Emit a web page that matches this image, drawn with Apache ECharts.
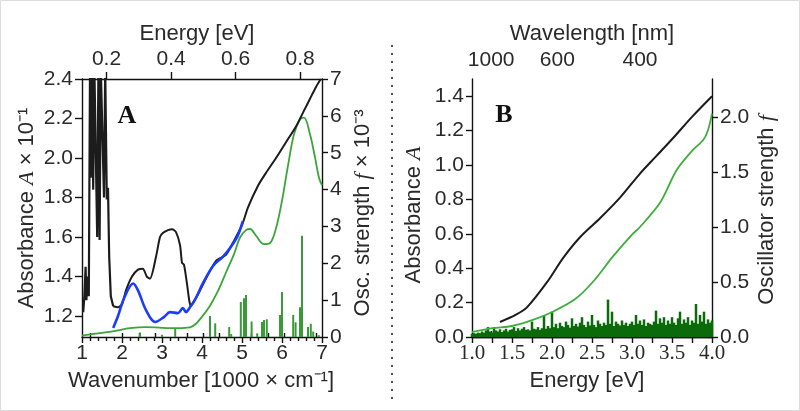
<!DOCTYPE html>
<html><head><meta charset="utf-8">
<script src="https://cdn.jsdelivr.net/npm/echarts@6/dist/echarts.min.js"></script>
<style>html,body{margin:0;padding:0;background:#fff}#c{width:800px;height:411px}</style>
</head><body><div id="c"></div>
<script>
// ---------- Panel A data (x: wavenumber in 1000 cm^-1) ----------
// jagged low-wavenumber region of the absorbance (spikes run off the top of the axis)
const absSpikeA_wn  = [1.03,1.06,1.09,1.11,1.14,1.17,1.20,1.22,1.25,1.28,1.31,1.35,1.38,1.41,1.44,1.47,1.52,1.55,1.58,1.62,1.65,1.68,1.72,1.78];
const absSpikeA_val = [1.22,1.30,1.45,1.28,1.40,1.30,2.45,1.90,2.45,1.84,2.45,2.45,1.60,2.45,1.585,2.45,2.45,1.80,2.45,1.79,1.85,1.50,1.30,1.25];
// smooth remainder of the absorbance
const absA_wn  = [1.78,1.90,2.00,2.10,2.25,2.40,2.52,2.62,2.70,2.85,2.95,3.02,3.15,3.25,3.35,3.45,3.50,3.55,3.62,3.68,3.72,3.78,3.90,4.00,4.35,4.60,4.77,5.00,5.15,5.40,5.60,5.85,6.10,6.35,6.55,6.70,6.85,6.97];
const absA_val = [1.25,1.245,1.26,1.33,1.40,1.435,1.44,1.40,1.39,1.50,1.60,1.62,1.635,1.64,1.625,1.56,1.47,1.46,1.37,1.28,1.25,1.27,1.31,1.35,1.48,1.51,1.57,1.66,1.75,1.86,1.925,2.00,2.08,2.16,2.24,2.30,2.36,2.40];
const blueA_wn  = [1.78,1.90,2.05,2.28,2.40,2.60,2.83,3.05,3.20,3.40,3.52,3.60,3.70,3.82,4.02,4.28,4.52,4.70,4.88,5.02];
const blueA_val = [1.14,1.20,1.29,1.365,1.33,1.23,1.17,1.195,1.22,1.215,1.24,1.22,1.245,1.28,1.365,1.455,1.50,1.545,1.60,1.68];
const oscA_wn  = [1.0,1.4,1.8,2.2,2.6,3.0,3.4,3.7,3.85,4.0,4.2,4.4,4.6,4.8,4.95,5.1,5.2,5.35,5.55,5.7,5.85,6.0,6.15,6.3,6.45,6.55,6.7,6.82,6.93,7.0];
const oscA_val = [0.04,0.10,0.16,0.24,0.27,0.25,0.24,0.26,0.36,0.55,0.85,1.25,1.75,2.25,2.7,2.9,2.93,2.75,2.52,2.55,2.95,3.7,4.65,5.5,5.9,5.95,5.5,4.9,4.3,4.12];
const stickA_wn  = [2.45,3.00,3.33,4.20,4.33,4.68,4.73,4.97,5.05,5.10,5.24,5.38,5.50,5.55,5.62,5.95,6.00,6.28,6.34,6.45,6.47,6.50,6.65,6.72,6.78,6.92];
const stickA_val = [0.12,0.06,0.24,0.57,0.37,0.27,0.08,0.95,1.05,1.14,0.42,0.10,0.41,0.46,0.48,0.60,1.22,0.60,0.40,0.81,0.30,2.75,0.27,0.36,0.15,0.05];
const tickA_left     = [1.2,1.4,1.6,1.8,2.0,2.2,2.4];
const tickA_topMajor = [0.2,0.4,0.6,0.8];
const tickA_topMinor = [0.15,0.25,0.3,0.35,0.45,0.5,0.55,0.65,0.7,0.75,0.85];

// ---------- Panel B data (x: energy in eV) ----------
const absB_E   = [1.35,1.55,1.69,1.94,2.14,2.35,2.60,2.85,3.10,3.30,3.52,3.75,4.00];
const absB_val = [0.087,0.13,0.174,0.32,0.46,0.58,0.69,0.81,0.95,1.05,1.16,1.28,1.40];
const oscB_E   = [1.0,1.26,1.5,1.76,2.01,2.29,2.51,2.76,3.0,3.1,3.35,3.56,3.76,3.89,3.95,4.0];
const oscB_val = [0.045,0.08,0.10,0.155,0.23,0.345,0.50,0.73,0.93,1.0,1.22,1.52,1.70,1.79,1.88,2.03];
const stickB_val = [
 0.03,0.035,0.03,0.04,0.035,0.05,0.04,0.06,0.09,0.05,
 0.04,0.09,0.06,0.05,0.07,0.045,0.06,0.075,0.05,0.065,
 0.07,0.09,0.055,0.08,0.06,0.075,0.09,0.065,0.07,0.06,
 0.14,0.075,0.07,0.09,0.065,0.08,0.2,0.075,0.1,0.08,
 0.23,0.09,0.12,0.08,0.13,0.1,0.09,0.14,0.11,0.085,
 0.17,0.1,0.12,0.095,0.13,0.18,0.11,0.09,0.14,0.105,
 0.2,0.11,0.09,0.15,0.12,0.1,0.13,0.11,0.34,0.12,
 0.23,0.1,0.14,0.12,0.105,0.15,0.11,0.13,0.1,0.12,
 0.14,0.11,0.2,0.12,0.15,0.11,0.16,0.1,0.13,0.12,
 0.11,0.14,0.24,0.12,0.17,0.13,0.18,0.11,0.15,0.12,
 0.18,0.13,0.11,0.17,0.23,0.12,0.16,0.13,0.18,0.11,
 0.15,0.13,0.3,0.12,0.2,0.14,0.23,0.12,0.16,0.13,
 0.15];
const stickB_E = stickB_val.map((v, i) => +(1 + i * 0.025).toFixed(3)); // energy grid of the stick spectrum
const tickB_nmMajor = [1000,600,400];
const tickB_nmMinor = [1200,1150,1100,1050,950,900,850,800,750,700,650,550,500,450,350];
const tickB_left  = [0,0.2,0.4,0.6,0.8,1.0,1.2,1.4];
const tickB_right = [0,0.5,1.0,1.5,2.0];

// ---------- helpers ----------
const HC = 1239.842; // eV*nm
const EV_PER_KCM = 0.1239842; // eV per 1000 cm^-1
const zip = (a, b) => a.map((v, i) => [v, b[i]]);
const SANS = "'Liberation Sans', Arial, sans-serif";
const SERIF = "'Liberation Serif', 'Times New Roman', serif";
const TXT = '#2a2a2a';
const lineStyle = { color: '#111', width: 1.4 };
const lbl = (o) => Object.assign({ color: TXT, fontFamily: SANS, fontSize: 21 }, o);

const gridA = { left: 82, top: 79, width: 240, height: 258, containLabel: false, outerBoundsMode: 'none' };
const gridB = { left: 472, top: 79, width: 240, height: 258, containLabel: false, outerBoundsMode: 'none' };

const chart = echarts.init(document.getElementById('c'), null, { renderer: 'canvas' });
const option = {
  animation: false,
  backgroundColor: '#fff',
  grid: [gridA, Object.assign({}, gridA), gridB, Object.assign({}, gridB)],
  xAxis: [
    { gridIndex: 0, type: 'value', position: 'bottom', min: 1, max: 7, interval: 1,
      axisLine: { show: true, lineStyle }, splitLine: { show: false },
      axisTick: { show: true, length: 6, lineStyle },
      minorTick: { show: true, splitNumber: 5, length: 4, lineStyle },
      axisLabel: lbl({ margin: 6 }) },
    { gridIndex: 0, type: 'value', position: 'top', min: 1 * EV_PER_KCM, max: 7 * EV_PER_KCM,
      axisLine: { show: true, lineStyle }, splitLine: { show: false },
      axisTick: { show: true, length: 7, lineStyle, customValues: tickA_topMajor },
      axisLabel: lbl({ margin: 9, customValues: tickA_topMajor, formatter: v => v.toFixed(1) }) },
    { gridIndex: 1, type: 'value', position: 'top', min: 1 * EV_PER_KCM, max: 7 * EV_PER_KCM,
      axisLine: { show: false }, splitLine: { show: false },
      axisTick: { show: true, length: 4, lineStyle, customValues: tickA_topMinor },
      axisLabel: { show: false } },
    { gridIndex: 2, type: 'value', position: 'bottom', min: 1, max: 4, interval: 0.5,
      axisLine: { show: true, lineStyle }, splitLine: { show: false },
      axisTick: { show: true, length: 6, lineStyle },
      minorTick: { show: true, splitNumber: 2, length: 6, lineStyle },
      axisLabel: lbl({ margin: 6, fontFamily: SERIF, formatter: v => v.toFixed(1) }) },
    { gridIndex: 2, type: 'value', position: 'top', min: 1, max: 4,
      axisLine: { show: true, lineStyle }, splitLine: { show: false },
      axisTick: { show: true, length: 6, lineStyle, customValues: tickB_nmMajor.map(n => HC / n) },
      axisLabel: lbl({ margin: 8, customValues: tickB_nmMajor.map(n => HC / n), formatter: v => String(Math.round(HC / v)) }) },
    { gridIndex: 3, type: 'value', position: 'top', min: 1, max: 4,
      axisLine: { show: false }, splitLine: { show: false },
      axisTick: { show: true, length: 3, lineStyle, customValues: tickB_nmMinor.map(n => HC / n).filter(e => e >= 1 && e <= 4) },
      axisLabel: { show: false } }
  ],
  yAxis: [
    { gridIndex: 0, type: 'value', position: 'left', min: 1.094, max: 2.4,
      axisLine: { show: true, lineStyle }, splitLine: { show: false },
      axisTick: { show: true, length: 7, lineStyle, customValues: tickA_left },
      axisLabel: lbl({ margin: 9, customValues: tickA_left, formatter: v => v.toFixed(1) }) },
    { gridIndex: 0, type: 'value', position: 'right', min: 0, max: 7, interval: 1,
      axisLine: { show: true, lineStyle }, splitLine: { show: false },
      axisTick: { show: true, length: 6, lineStyle },
      axisLabel: lbl({ margin: 8 }) },
    { gridIndex: 1, type: 'value', show: false, min: 0, max: 1 },
    { gridIndex: 2, type: 'value', position: 'left', min: 0, max: 1.5,
      axisLine: { show: true, lineStyle }, splitLine: { show: false },
      axisTick: { show: true, length: 6, lineStyle, customValues: tickB_left },
      axisLabel: lbl({ margin: 8, customValues: tickB_left, formatter: v => v.toFixed(1) }) },
    { gridIndex: 2, type: 'value', position: 'right', min: 0, max: 2.345,
      axisLine: { show: true, lineStyle }, splitLine: { show: false },
      axisTick: { show: true, length: 6, lineStyle, customValues: tickB_right },
      axisLabel: lbl({ margin: 8, customValues: tickB_right, formatter: v => v.toFixed(1) }) },
    { gridIndex: 3, type: 'value', show: false, min: 0, max: 1 }
  ],
  series: [
    { type: 'bar', xAxisIndex: 0, yAxisIndex: 1, data: zip(stickA_wn, stickA_val), barWidth: 2,
      itemStyle: { color: '#3a9a3a' }, z: 1 },
    { type: 'line', xAxisIndex: 0, yAxisIndex: 1, data: zip(oscA_wn, oscA_val), smooth: 0.35, symbol: 'none',
      lineStyle: { color: '#3aa53a', width: 1.8 }, z: 2 },
    { type: 'line', xAxisIndex: 0, yAxisIndex: 0, data: zip(absSpikeA_wn, absSpikeA_val), smooth: false, symbol: 'none', clip: true,
      lineStyle: { color: '#1c1c1c', width: 2.2 }, z: 3 },
    { type: 'line', xAxisIndex: 0, yAxisIndex: 0, data: zip(absA_wn, absA_val), smooth: 0.25, symbol: 'none', clip: true,
      lineStyle: { color: '#1c1c1c', width: 2 }, z: 3 },
    { type: 'line', xAxisIndex: 0, yAxisIndex: 0, data: zip(blueA_wn, blueA_val), smooth: 0.35, symbol: 'none',
      lineStyle: { color: '#1a3cff', width: 2.6 }, z: 4 },
    { type: 'bar', xAxisIndex: 3, yAxisIndex: 4, data: zip(stickB_E, stickB_val), barWidth: 2.5,
      itemStyle: { color: '#0b6b0b' }, z: 1 },
    { type: 'line', xAxisIndex: 3, yAxisIndex: 4, data: zip(oscB_E, oscB_val), smooth: 0.3, symbol: 'none',
      lineStyle: { color: '#3cae3c', width: 1.8 }, z: 2 },
    { type: 'line', xAxisIndex: 3, yAxisIndex: 3, data: zip(absB_E, absB_val), smooth: 0.3, symbol: 'none',
      lineStyle: { color: '#1c1c1c', width: 2 }, z: 3 }
  ],
  graphic: [
    { type: 'rect', shape: { x: 0.5, y: 0.5, width: 799, height: 410 }, style: { fill: 'none', stroke: '#ddd', lineWidth: 1 }, silent: true },
    { type: 'line', shape: { x1: 392, y1: 45, x2: 392, y2: 400 }, style: { stroke: '#555', lineWidth: 2, lineDash: [2, 6] }, silent: true },
    { type: 'text', x: 197, y: 34, style: { text: 'Energy [eV]', font: '22px ' + SANS, fill: TXT, align: 'center', verticalAlign: 'middle' } },
    { type: 'text', x: 201, y: 381, style: { text: 'Wavenumber [1000 × cm⁻¹]', font: '22px ' + SANS, fill: TXT, align: 'center', verticalAlign: 'middle' } },
    { type: 'text', x: 27, y: 208, rotation: Math.PI / 2,
      style: { text: 'Absorbance {i|A} × 10⁻¹', font: '22px ' + SANS, fill: TXT, align: 'center', verticalAlign: 'middle',
        rich: { i: { fontStyle: 'italic', fontFamily: SERIF, fontSize: 22, fill: TXT } } } },
    { type: 'text', x: 363, y: 213, rotation: Math.PI / 2,
      style: { text: 'Osc. strength {i|f} × 10⁻³', font: '22px ' + SANS, fill: TXT, align: 'center', verticalAlign: 'middle',
        rich: { i: { fontStyle: 'italic', fontFamily: SERIF, fontSize: 22, fill: TXT } } } },
    { type: 'text', x: 127, y: 116, style: { text: 'A', font: 'bold 26px ' + SERIF, fill: '#111', align: 'center', verticalAlign: 'middle' } },
    { type: 'text', x: 592, y: 34, style: { text: 'Wavelength [nm]', font: '22px ' + SANS, fill: TXT, align: 'center', verticalAlign: 'middle' } },
    { type: 'text', x: 587, y: 381, style: { text: 'Energy [eV]', font: '22px ' + SANS, fill: TXT, align: 'center', verticalAlign: 'middle' } },
    { type: 'text', x: 414, y: 215, rotation: Math.PI / 2,
      style: { text: 'Absorbance {i|A}', font: '22px ' + SANS, fill: TXT, align: 'center', verticalAlign: 'middle',
        rich: { i: { fontStyle: 'italic', fontFamily: SERIF, fontSize: 22, fill: TXT } } } },
    { type: 'text', x: 767, y: 210, rotation: Math.PI / 2,
      style: { text: 'Oscillator strength {i|f}', font: '22px ' + SANS, fill: TXT, align: 'center', verticalAlign: 'middle',
        rich: { i: { fontStyle: 'italic', fontFamily: SERIF, fontSize: 22, fill: TXT } } } },
    { type: 'text', x: 504, y: 115, style: { text: 'B', font: 'bold 26px ' + SERIF, fill: '#111', align: 'center', verticalAlign: 'middle' } }
  ]
};
chart.setOption(option);
</script></body></html>
